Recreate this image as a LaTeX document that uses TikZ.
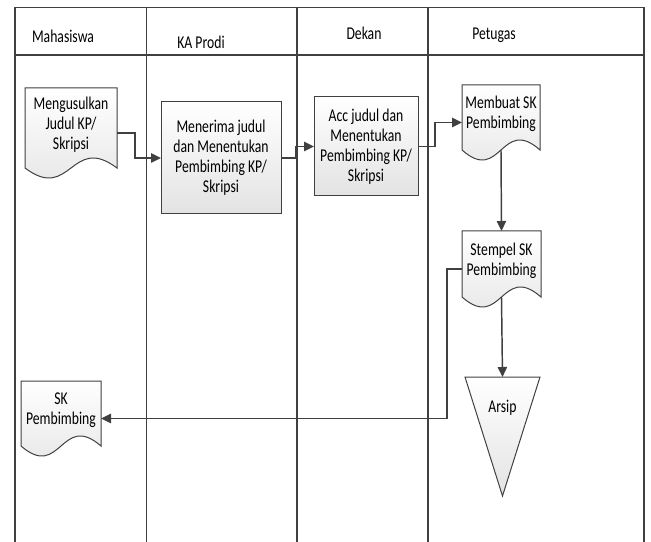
\documentclass[tikz,border=0pt]{standalone}
\usepackage{fontspec}
\setmainfont{Carlito}[FakeStretch=0.76]
\usetikzlibrary{arrows.meta,backgrounds}
\definecolor{garis}{HTML}{404040}
\tikzset{
  teks/.style={font=\fontsize{13.5}{15}\selectfont,align=center,inner sep=0pt,outer sep=0pt},
  kotak/.style={teks,draw=garis,line width=0.75pt,top color=white,bottom color=black!11},
  dok/.style={teks,text depth=15pt},
  bentuk/.style={draw=garis,line width=0.75pt,top color=white,bottom color=black!11},
  panah/.style={draw=garis,line width=1.1pt,-{Triangle[length=7.5pt,width=7pt]}},
  lajur/.style={draw=garis,line width=0.8pt},
}
% dokumen: sisi bawah bergelombang
\newcommand{\dokumen}[1]{\draw[bentuk](#1.north west)--(#1.north east)--([yshift=7.5pt]#1.south east)
  .. controls ([yshift=33.5pt]#1.south) and ([yshift=-18.5pt]#1.south) .. ([yshift=7.5pt]#1.south west)--cycle;}
\begin{document}
\begin{tikzpicture}[x=0.75pt,y=-0.75pt]
\useasboundingbox (0,0) rectangle (651,542);
\draw[lajur](15,542)--(15,7.5)--(644,7.5)--(644,542);
\foreach \x in {146.5,297,428}{\draw[lajur](\x,7.5)--(\x,542);}
\draw[lajur](15,55)--(644,55);
\foreach \x/\y/\t in {63/36/Mahasiswa,201/42/KA Prodi,364/33/Dekan,494/35/Petugas}{\node[teks] at (\x,\y) {\t};}
\node[dok,minimum width=69pt,minimum height=67.5pt] (usul) at (71,133) {Mengusulkan\\Judul KP/\\Skripsi};
\node[kotak,minimum width=90pt,minimum height=84pt] (terima) at (221,158) {Menerima judul\\dan Menentukan\\Pembimbing KP/\\Skripsi};
\node[kotak,minimum width=78pt,minimum height=74.25pt] (acc) at (366,146.5) {Acc judul dan\\Menentukan\\Pembimbing KP/\\Skripsi};
\node[dok,minimum width=58.5pt,minimum height=56.25pt] (buatsk) at (501,122.5) {Membuat SK\\Pembimbing};
\node[dok,minimum width=59.25pt,minimum height=57pt] (stempel) at (501.5,269) {Stempel SK\\Pembimbing};
\node[dok,minimum width=60pt,minimum height=56.25pt] (skmhs) at (61,418.5) {SK\\Pembimbing};
\node[teks,minimum width=56.25pt,minimum height=89.25pt] (arsip) at (502.5,436.5) {};
\node[teks] (arsipteks) at ([yshift=-23pt]arsip.north) {Arsip};
\begin{scope}[on background layer]
\dokumen{usul}\dokumen{buatsk}\dokumen{stempel}\dokumen{skmhs}
\draw[bentuk](arsip.north west)--(arsip.north east)--(arsip.south)--cycle;
\end{scope}
\draw[panah](usul.east)--++(18,0)|-(terima.west);
\draw[panah](terima.east)--++(15,0)|-(acc.west);
\draw[panah](acc.east)--++(17,0)|-(buatsk.west);
\draw[panah]([yshift=7.5pt]buatsk.south)--(stempel.north);
\draw[panah]([yshift=7.5pt]stempel.south)--(arsip.north);
\draw[panah](stempel.west)--++(-15,0)|-(skmhs.east);
\end{tikzpicture}
\end{document}
